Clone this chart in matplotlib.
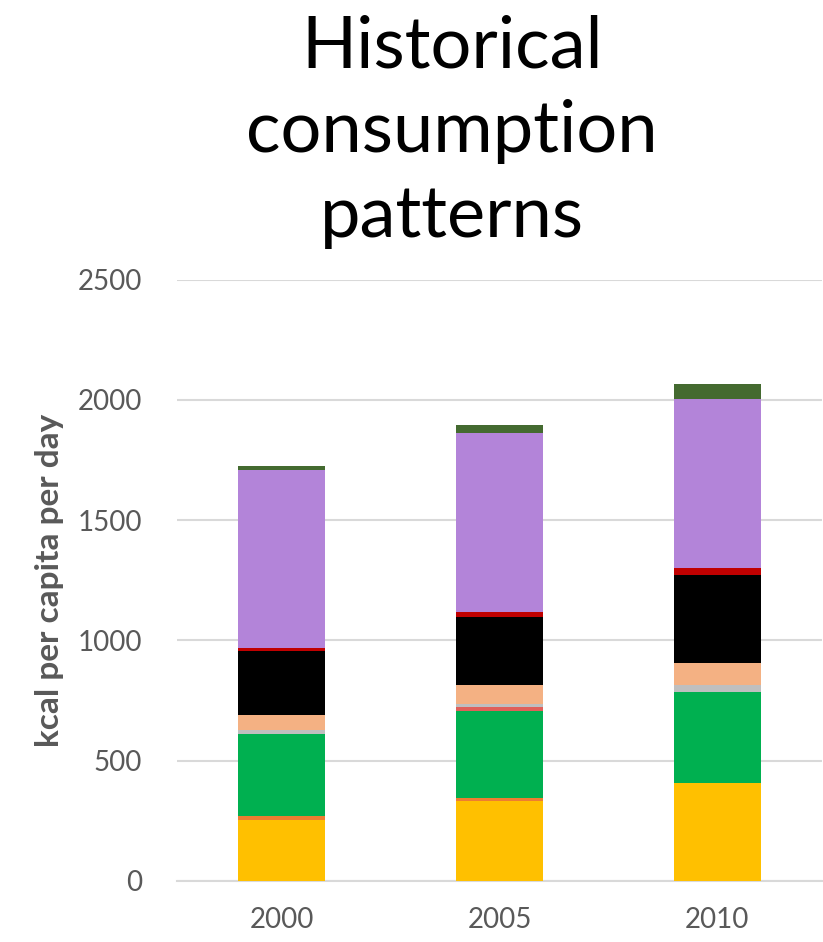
import matplotlib.pyplot as plt
import numpy as np

years = ['2000', '2005', '2010']

# kcal per capita per day, stacked bottom to top
yellow = [253, 332, 407]
orange = [17, 14, 0]
green = [341, 361, 379]
salmon = [0, 17, 0]
grey = [17, 12, 29]
peach = [63, 80, 92]
black = [266, 283, 363]
red = [13, 17, 29]
purple = [737, 745, 704]
darkgreen = [18, 34, 63]

layers = [yellow, orange, green, salmon, grey, peach, black, red, purple, darkgreen]
colours = ['#FFC000', '#ED7D31', '#00B050', '#E0605A', '#BFBFBF',
           '#F4B183', '#000000', '#C00000', '#B384D9', '#446A30']

plt.rcParams['font.family'] = ['Lato', 'DejaVu Sans']

fig = plt.figure(figsize=(8.23, 9.42), dpi=100)
ax = fig.add_axes([177 / 823, 61.3 / 942, 645 / 823, 601 / 942])

x = np.arange(len(years))
bottom = np.zeros(len(years))
for vals, c in zip(layers, colours):
    ax.bar(x, vals, width=0.4, bottom=bottom, color=c, zorder=3)
    bottom += np.array(vals)

ax.set_xlim(-0.48, 2.48)
ax.set_ylim(0, 2500)
ax.set_yticks(range(0, 2501, 500))
ax.set_xticks(x)
ax.set_xticklabels(years)
ax.grid(axis='y', color='#D9D9D9', linewidth=1.5, zorder=0)
for s in ['top', 'right', 'left']:
    ax.spines[s].set_visible(False)
ax.spines['bottom'].set_color('#D9D9D9')
ax.spines['bottom'].set_linewidth(1.5)
ax.tick_params(length=0, labelsize=20, colors='#595959')
ax.tick_params(axis='y', pad=25)
ax.tick_params(axis='x', pad=19)

ax.set_ylabel('kcal per capita per day', fontsize=24, fontweight='bold',
              color='#595959', labelpad=10)

fig.text(452 / 823, 1 - 14 / 942, 'Historical\nconsumption\npatterns',
         ha='center', va='top', fontsize=52, linespacing=1.38)

fig.savefig('out.png', dpi=100)
